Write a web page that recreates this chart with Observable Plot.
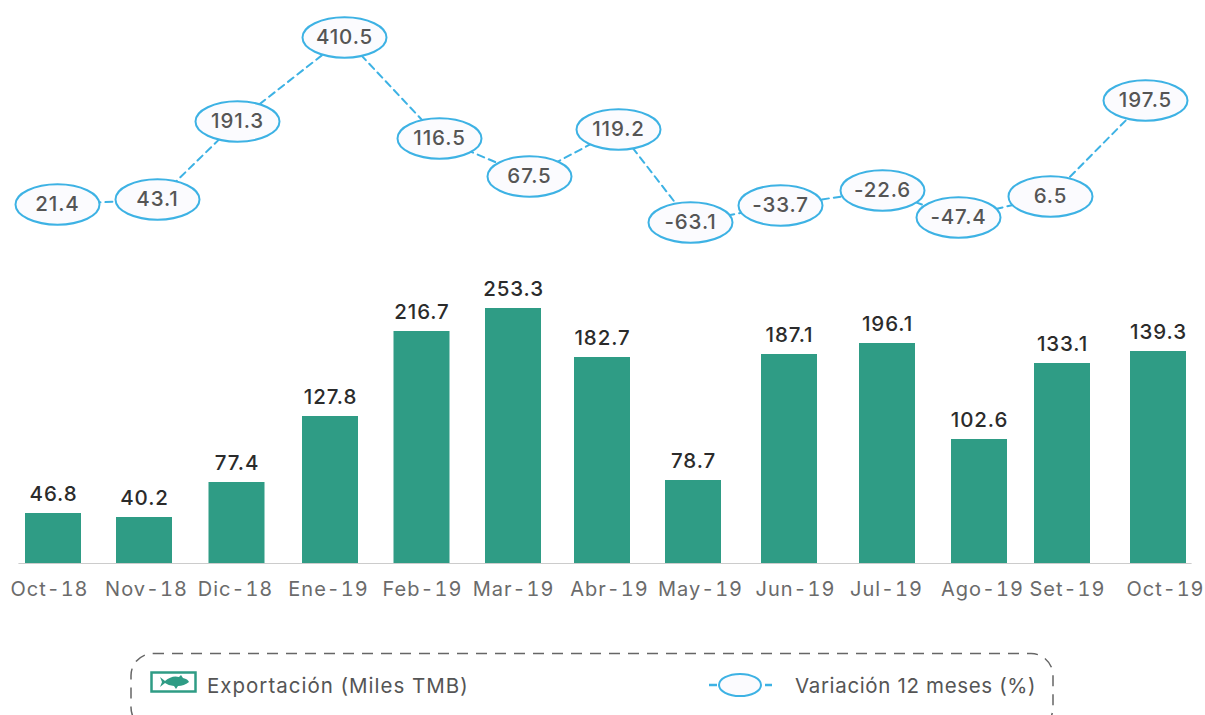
<!DOCTYPE html>
<html lang="es">
<head>
<meta charset="utf-8">
<script src="https://cdn.jsdelivr.net/npm/d3@7"></script>
<script src="https://cdn.jsdelivr.net/npm/@observablehq/plot@0.6"></script>
<style>
  html,body{margin:0;padding:0;background:#fff;overflow:hidden}
  #chart{position:relative;width:1205px;height:715px;overflow:hidden;font-family:Inter,"DejaVu Sans",sans-serif}
  #line,#bars,#axis{position:absolute;left:0}
  #line{top:0}#bars{top:245px}#axis{top:570px}
  svg{display:block;background:transparent;overflow:visible}
  .lg{position:absolute;font-size:20.5px;color:#555;white-space:nowrap;line-height:24px;letter-spacing:.65px}
  .ic{position:absolute}
</style>
</head>
<body>
<div id="chart">
  <div id="line"></div>
  <div id="bars"></div>
  <div id="axis"></div>
  <svg class="ic" style="left:130px;top:652px" width="925" height="80">
    <rect x="1" y="1.5" width="922" height="76" rx="22" fill="none" stroke="#666" stroke-width="1.5" stroke-dasharray="11 8"/>
  </svg>
  <svg class="ic" style="left:150px;top:671px" width="47" height="23" viewBox="0 0 47 23">
    <rect x="1.5" y="1.5" width="44" height="19" fill="#fff" stroke="#2f9c85" stroke-width="2.5"/>
    <path d="M10 6 L15 10 Q22 4 29 6 L31 4 L33 7 Q38 8 39 11 Q34 15 28 15 L26 18 L24 15 Q19 15 15 12 L10 16 L12 11 Z" fill="#2f9c85"/>
  </svg>
  <div class="lg" style="left:207px;top:674px;letter-spacing:1px">Exportación (Miles TMB)</div>
  <svg class="ic" style="left:706px;top:670px" width="68" height="30">
    <path d="M3 15H11M59 15H66" stroke="#3db2e4" stroke-width="2.5"/>
    <ellipse cx="34" cy="15" rx="21" ry="11" fill="#fbfbfe" stroke="#3db2e4" stroke-width="2"/>
  </svg>
  <div class="lg" style="left:795px;top:674px">Variación 12 meses (%)</div>
</div>
<script>
const months = ["Oct-18","Nov-18","Dic-18","Ene-19","Feb-19","Mar-19","Abr-19","May-19","Jun-19","Jul-19","Ago-19","Set-19","Oct-19"];
const exportacion = [46.8,40.2,77.4,127.8,216.7,253.3,182.7,78.7,187.1,196.1,102.6,133.1,139.3];
const variacion = [21.4,43.1,191.3,410.5,116.5,67.5,119.2,-63.1,-33.7,-22.6,-47.4,6.5,197.5];
const order = d3.range(months.length);

const GREEN = "#2f9c85", BLUE = "#3db2e4";
const font = 'Inter,"DejaVu Sans",sans-serif';

// The reference is hand-laid: its scales are piecewise, pinned at each printed value.
const lineXRange = [57,157,237,344,439,529,618,690,780,882,958,1050,1145];
const lineYDomain = [-63.1,-47.4,-33.7,-22.6,6.5,21.4,43.1,67.5,116.5,119.2,191.3,197.5,410.5];
const lineYRange = [222,217,205,190,196,204,199,176,138,129,121,100,37];
const barXRange = [53,144,236.5,330,421.5,513,602,693,789,887,979,1062,1158];
const barYDomain = [0,40.2,46.8,77.4,78.7,102.6,127.8,133.1,139.3,182.7,187.1,196.1,216.7,253.3];
const barYRange = [318,272,268,237,235,194,171,118,106,112,109,98,86,63];
const tickXRange = [49,146,235,328,422,513,609,700,795,886,982,1067,1165];

// Ellipse as a Plot symbol
const ellipse = {draw(ctx, size){
  const rx = Math.sqrt(size/Math.PI), ry = rx*0.48, k = 0.5523;
  ctx.moveTo(-rx,0);
  ctx.bezierCurveTo(-rx,-ry*k,-rx*k,-ry,0,-ry);
  ctx.bezierCurveTo(rx*k,-ry,rx,-ry*k,rx,0);
  ctx.bezierCurveTo(rx,ry*k,rx*k,ry,0,ry);
  ctx.bezierCurveTo(-rx*k,ry,-rx,ry*k,-rx,0);
  ctx.closePath();
}};

const linePlot = Plot.plot({
  width:1205, height:245, margin:0,
  style:{background:"transparent",fontFamily:font,letterSpacing:"0.9px"},
  x:{type:"linear",domain:order,range:lineXRange,axis:null},
  y:{type:"linear",domain:lineYDomain,range:lineYRange,axis:null},
  marks:[
    Plot.line(order,{x:i=>i,y:i=>variacion[i],stroke:BLUE,strokeWidth:2,strokeDasharray:"7 5"}),
    Plot.dot(order,{x:i=>i,y:i=>variacion[i],symbol:ellipse,r:42,fill:"#fbfbfe",stroke:BLUE,strokeWidth:2}),
    Plot.text(order,{x:i=>i,y:i=>variacion[i],text:i=>String(variacion[i]),fill:"#555",fontSize:20.5,fontWeight:500})
  ]
});
document.getElementById("line").append(linePlot);

const barPlot = Plot.plot({
  width:1205, height:325, margin:0,
  style:{background:"transparent",fontFamily:font,letterSpacing:"0.9px"},
  x:{type:"linear",domain:order,range:barXRange,axis:null},
  y:{type:"linear",domain:barYDomain,range:barYRange,axis:null},
  marks:[
    Plot.rect(order,{x1:i=>i,x2:i=>i,y1:0,y2:i=>exportacion[i],fill:GREEN,insetLeft:-28,insetRight:-28}),
    Plot.ruleY([0],{x1:-0.38,x2:12.35,stroke:"#ccc",strokeWidth:1}),
    Plot.text(order,{x:i=>i,y:i=>exportacion[i],text:i=>String(exportacion[i]),dy:-19,fill:"#2b2b2b",fontSize:20.5,fontWeight:500})
  ]
});
document.getElementById("bars").append(barPlot);

const axisPlot = Plot.plot({
  width:1205, height:40, marginTop:0, marginBottom:40, marginLeft:0, marginRight:0,
  style:{background:"transparent",fontFamily:font,letterSpacing:"1px"},
  x:{type:"linear",domain:order,range:tickXRange,axis:null},
  marks:[
    Plot.axisX(order,{anchor:"bottom",tickSize:0,tickPadding:11,tickFormat:i=>months[i],fill:"#6b6b6b",fontSize:20})
  ]
});
document.getElementById("axis").append(axisPlot);
</script>
</body>
</html>
